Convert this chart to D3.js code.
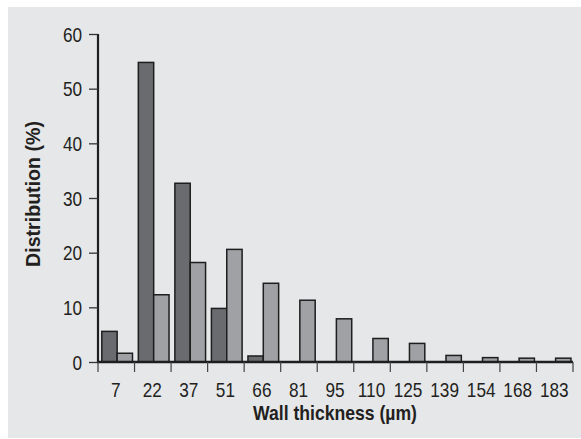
<!DOCTYPE html>
<html>
<head>
<meta charset="utf-8">
<script src="https://cdn.jsdelivr.net/npm/d3@7"></script>
<style>
  html, body { margin: 0; padding: 0; background: #ffffff; }
  svg { display: block; }
  text { font-family: "Liberation Sans", Arial, sans-serif; }
</style>
</head>
<body>
<svg id="chart" width="581" height="439"></svg>
<script>
const categories = ["7", "22", "37", "51", "66", "81", "95", "110", "125", "139", "154", "168", "183"];
const seriesDark = [5.6, 54.8, 32.7, 9.8, 1.1, 0, 0, 0, 0, 0, 0, 0, 0];
const seriesLight = [1.6, 12.3, 18.2, 20.6, 14.4, 11.3, 7.9, 4.3, 3.4, 1.2, 0.8, 0.7, 0.7];
const yTicks = [0, 10, 20, 30, 40, 50, 60];
const xTitle = "Wall thickness (\u00b5m)";
const yTitle = "Distribution (%)";

const svg = d3.select("#chart");
svg.append("rect").attr("x", 8).attr("y", 7).attr("width", 573).attr("height", 431).attr("fill", "#e6e7e9");

const pLeft = 98, pRight = 573, pTop = 34, pBottom = 362;
const x = d3.scaleBand().domain(categories).range([pLeft, pRight]).padding(0);
const y = d3.scaleLinear().domain([0, 60]).range([pBottom, pTop]);
const bw = x.bandwidth();
const sub = d3.scaleBand().domain(["dark", "light"]).range([bw * 0.104, bw * 0.944]).padding(0);

const data = categories.map((c, i) => ({ c, dark: seriesDark[i], light: seriesLight[i] }));
const g = svg.append("g");
const groups = g.selectAll("g.grp").data(data).join("g").attr("transform", d => `translate(${x(d.c)},0)`);
[["dark", "#6a6b6f"], ["light", "#a0a1a5"]].forEach(([key, col]) => {
  groups.filter(d => d[key] > 0).append("rect")
    .attr("x", sub(key))
    .attr("y", d => y(d[key]))
    .attr("width", sub.bandwidth())
    .attr("height", d => y(0) - y(d[key]))
    .attr("fill", col)
    .attr("stroke", "#1e1e1e")
    .attr("stroke-width", 1.5);
});

const sx = 0.86;
// Y axis
const yAxis = svg.append("g").attr("transform", `translate(${pLeft},0)`)
  .call(d3.axisLeft(y).tickValues(yTicks).tickSize(9).tickPadding(0).tickFormat(d3.format("d")));
yAxis.select(".domain").attr("stroke", "#1e1e1e").attr("stroke-width", 2.2).attr("d", `M0,${pTop}V${pBottom}`);
yAxis.selectAll(".tick line").attr("stroke", "#333").attr("stroke-width", 1.3);
yAxis.selectAll(".tick text").attr("x", null).attr("dy", null)
  .attr("transform", `translate(-16,7) scale(${sx},1)`)
  .attr("font-size", 20).attr("fill", "#231f20");

// X axis
const xAxis = svg.append("g").attr("transform", `translate(0,${pBottom})`);
xAxis.append("line").attr("x1", pLeft - 1).attr("x2", pRight).attr("y1", 0).attr("y2", 0)
  .attr("stroke", "#1e1e1e").attr("stroke-width", 2.4);
const bounds = categories.map(c => x(c)).concat([pRight]);
xAxis.selectAll("line.tk").data(bounds).join("line").attr("class", "tk")
  .attr("x1", d => d).attr("x2", d => d).attr("y1", 0).attr("y2", 10)
  .attr("stroke", "#444").attr("stroke-width", 1.2);
xAxis.selectAll("text.lab").data(categories).join("text").attr("class", "lab")
  .attr("transform", d => `translate(${x(d) + bw / 2 - 0.5},35) scale(${sx},1)`)
  .attr("text-anchor", "middle").attr("font-size", 20).attr("fill", "#231f20")
  .text(d => d);

svg.append("text").attr("transform", "translate(335,420) scale(0.88,1)").attr("text-anchor", "middle")
  .attr("font-size", 20).attr("font-weight", "bold").attr("fill", "#231f20").text(xTitle);
svg.append("text").attr("transform", "translate(40,194) rotate(-90) scale(0.98,1)").attr("text-anchor", "middle")
  .attr("font-size", 20).attr("font-weight", "bold").attr("fill", "#231f20").text(yTitle);
</script>
</body>
</html>
